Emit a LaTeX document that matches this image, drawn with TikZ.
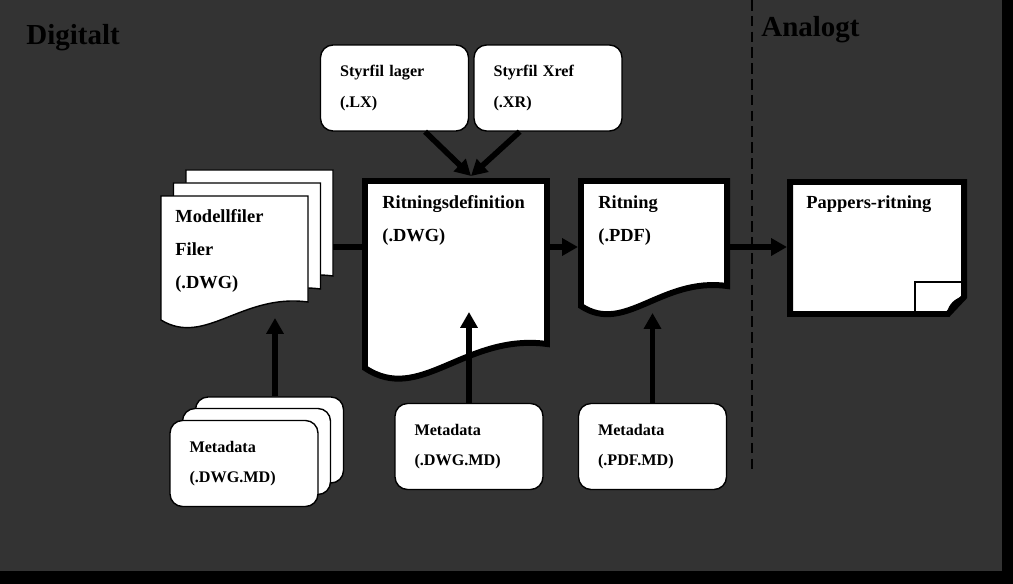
\documentclass[tikz,border=0pt]{standalone}
\usepackage{fontspec}
\setmainfont{Liberation Serif}
\usetikzlibrary{arrows.meta}
\definecolor{bggray}{RGB}{51,51,51}

\begin{document}
\begin{tikzpicture}[x=0.02cm,y=-0.02cm,
  lbl/.style={font=\bfseries\fontsize{10.5}{18.8}\selectfont, align=left, inner sep=0pt, anchor=north west},
  titel/.style={font=\bfseries\fontsize{16.5}{20}\selectfont, inner sep=0pt, anchor=base west},
  mdbox/.style={draw=black, line width=0.8pt, fill=white, rounded corners=0.25cm, minimum width=2.96cm, minimum height=1.72cm, text width=2.18cm, inner xsep=0.39cm, align=left, font=\bfseries\fontsize{9.2}{17.5}\selectfont},
  page/.style={draw=black, line width=0.8pt, fill=white},
  docu/.style={draw=black, line width=3.4pt, fill=white, line join=miter},
  conn/.style={line width=3.2pt},
  arr/.style={conn, -{Triangle[length=9pt,width=9.5pt]}}]
\useasboundingbox (0,0) rectangle (1013,584);
\fill[black] (0,0) rectangle (1013,584);
\fill[bggray] (0,0) rectangle (1002,571);
\draw[line width=0.8pt, dash pattern=on 6pt off 3pt] (752,0) -- (752,470);
\node[titel] (digital) at (26,45) {Digitalt};
\node[titel] (analog) at (761,37) {Analogt};

\draw[page] (186,170) -- (333,170) -- (333,276) .. controls (267,267) and (230,321) .. (186,294) -- cycle;
\draw[page] (173.5,183) -- (320.5,183) -- (320.5,289) .. controls (254.5,280) and (217.5,334) .. (173.5,307) -- cycle;
\draw[page] (161,196) -- (308,196) -- (308,302) .. controls (242,293) and (205,347) .. (161,320) -- cycle;
\node[lbl] (modell) at (175,209) {Modellfiler\\Filer\\(.DWG)};

\draw[docu] (365,181) -- (547,181) -- (547,344) .. controls (465,333) and (420,405) .. (365,368) -- cycle;
\node[lbl] (rdef) at (382,195) {Ritningsdefinition\\(.DWG)};

\draw[docu] (581,181) -- (727,181) -- (727,286) .. controls (661,277) and (625,335) .. (581,306) -- cycle;
\node[lbl] (ritn) at (598,195) {Ritning\\(.PDF)};

\draw[docu] (790,182) -- (964,182) -- (964,297) -- (948,314) -- (790,314) -- cycle;
\draw[line width=0.9pt] (915,314) -- (915,282) -- (964,282);
\draw[line width=1.6pt] (948,314) .. controls (950,304) and (956,300) .. (964,297);
\fill (955,305) circle (2.4);
\node[lbl] (papper) at (806,195) {Pappers-ritning};

\node[mdbox] (lager) at (394.5,88) {Styrfil lager\\(.LX)};
\node[mdbox] (xref) at (548,88) {Styrfil Xref\\(.XR)};

\node[mdbox] (mdc) at (269.5,440) {};
\node[mdbox] (mdb) at (256.5,451.5) {};
\node[mdbox] (mda) at (244,463.5) {Metadata\\(.DWG.MD)};
\node[mdbox] (mddwg) at (469,446.5) {Metadata\\(.DWG.MD)};
\node[mdbox] (mdpdf) at (652.5,446.5) {Metadata\\(.PDF.MD)};

\coordinate (rdefT) at (471,176);
\coordinate (rdefW) at (363,247);
\coordinate (rdefE) at (549,247);
\coordinate (rdefB) at (469,312);
\coordinate (modellE) at (333,247);
\coordinate (modellB) at (275,318);
\coordinate (ritnW) at (578,247);
\coordinate (ritnE) at (729,247);
\coordinate (ritnB) at (652.5,313);
\coordinate (papperW) at (787,247);

\draw[arr] (lager.-55) -- (rdefT);
\draw[arr] (xref.-123) -- (rdefT);
\draw[conn] (modellE) -- (rdefW);
\draw[arr] (rdefE) -- (ritnW);
\draw[arr] (ritnE) -- (papperW);
\draw[arr] (mdc.north -| modellB) -- (modellB);
\draw[arr] (mddwg.north) -- (rdefB);
\draw[arr] (mdpdf.north) -- (ritnB);
\end{tikzpicture}
\end{document}
